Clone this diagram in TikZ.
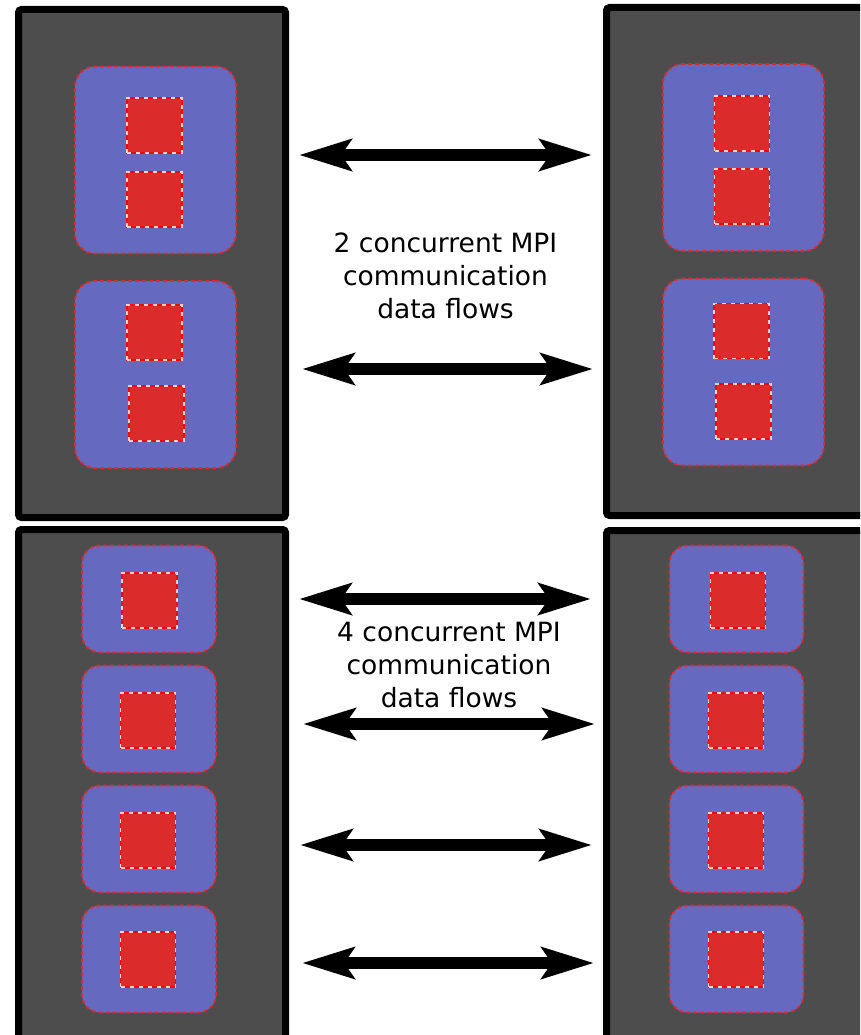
\documentclass[tikz,border=0pt]{standalone}
\usepackage{fontspec}
\newfontfamily\labelfont{DejaVu Sans}
\usetikzlibrary{arrows.meta}
\definecolor{nodegray}{HTML}{4D4D4D}
\definecolor{socketblue}{HTML}{6669C0}
\definecolor{corered}{HTML}{DC2B2B}
\definecolor{edgered}{HTML}{FF0000}
\tikzset{
  machine/.style={fill=nodegray, draw=black, line width=7pt, rounded corners=3pt},
  socket/.style={draw=corered, fill=socketblue, line width=1.8pt,
    dash pattern=on 4pt off 3pt, rounded corners=20pt, inner sep=0pt},
  smallsocket/.style={socket, rounded corners=18pt, minimum width=134pt, minimum height=107pt},
  bigsocket/.style={socket, minimum width=161pt, minimum height=187pt},
  core/.style={fill=corered, draw=edgered, line width=1.6pt, minimum size=55pt, inner sep=0pt,
    postaction={draw=white!80!edgered, line width=1.6pt, dash pattern=on 4pt off 5pt}},
  flow/.style={line width=12pt, {Stealth[length=52pt, width=31pt, inset=10pt]}-{Stealth[length=52pt, width=31pt, inset=10pt]}},
  caption/.style={font=\labelfont\fontsize{26.5}{33}\selectfont, align=center, inner sep=0pt}
}
\begin{document}
\begin{tikzpicture}[x=1pt, y=-1pt]
\useasboundingbox (0,0) rectangle (860,1035);
\clip (0,0) rectangle (860,1035);

% compute nodes
\draw[machine] (18.5,9.5) rectangle (285.5,517.5);
\draw[machine] (606.5,7.5) rectangle (900,515.5);
\draw[machine] (18.5,529.5) rectangle (285.5,1070);
\draw[machine] (606.5,530.5) rectangle (900,1070);

% two sockets per node, two cores each
\node[bigsocket] (tl1) at (155.5,160) {};
\node[bigsocket] (tl2) at (155.5,374.5) {};
\node[core] (tl1a) at (154.5,125.5) {};
\node[core] (tl1b) at (154.5,199.5) {};
\node[core] (tl2a) at (154.5,332.5) {};
\node[core] (tl2b) at (156.5,413.5) {};

\node[bigsocket] (tr1) at (743.5,157.5) {};
\node[bigsocket] (tr2) at (743.5,372) {};
\node[core] (tr1a) at (742,123.5) {};
\node[core] (tr1b) at (742,196.5) {};
\node[core] (tr2a) at (741.5,331) {};
\node[core] (tr2b) at (743.5,411.5) {};

% four sockets per node, one core each
\foreach \i/\y in {1/599, 2/719, 3/839, 4/959} {
  \node[smallsocket] (bl\i) at (149,\y) {};
  \node[smallsocket] (br\i) at (736.5,\y) {};
}
\node[core] (bl1a) at (149.5,600.5) {};
\node[core] (bl2a) at (148,720.5) {};
\node[core] (bl3a) at (148,840.5) {};
\node[core] (bl4a) at (148,959.5) {};
\node[core] (br1a) at (738,600.5) {};
\node[core] (br2a) at (736,720.5) {};
\node[core] (br3a) at (736,840.5) {};
\node[core] (br4a) at (736,959.5) {};

% communication flows
\coordinate (f1l) at (299,155);  \coordinate (f1r) at (592,155);
\coordinate (f2l) at (302,369);  \coordinate (f2r) at (593,369);
\coordinate (f3l) at (299,599);  \coordinate (f3r) at (591,599);
\coordinate (f4l) at (303,724);  \coordinate (f4r) at (595,724);
\coordinate (f5l) at (300,845);  \coordinate (f5r) at (592,845);
\coordinate (f6l) at (302,963);  \coordinate (f6r) at (594,963);
\foreach \k in {1,...,6} { \draw[flow] (f\k l) -- (f\k r); }

\node[caption] (cap2) at (445.5,276) {2 concurrent MPI\\communication\\data flows};
\node[caption] (cap4) at (449,665) {4 concurrent MPI\\communication\\data flows};
\end{tikzpicture}
\end{document}
